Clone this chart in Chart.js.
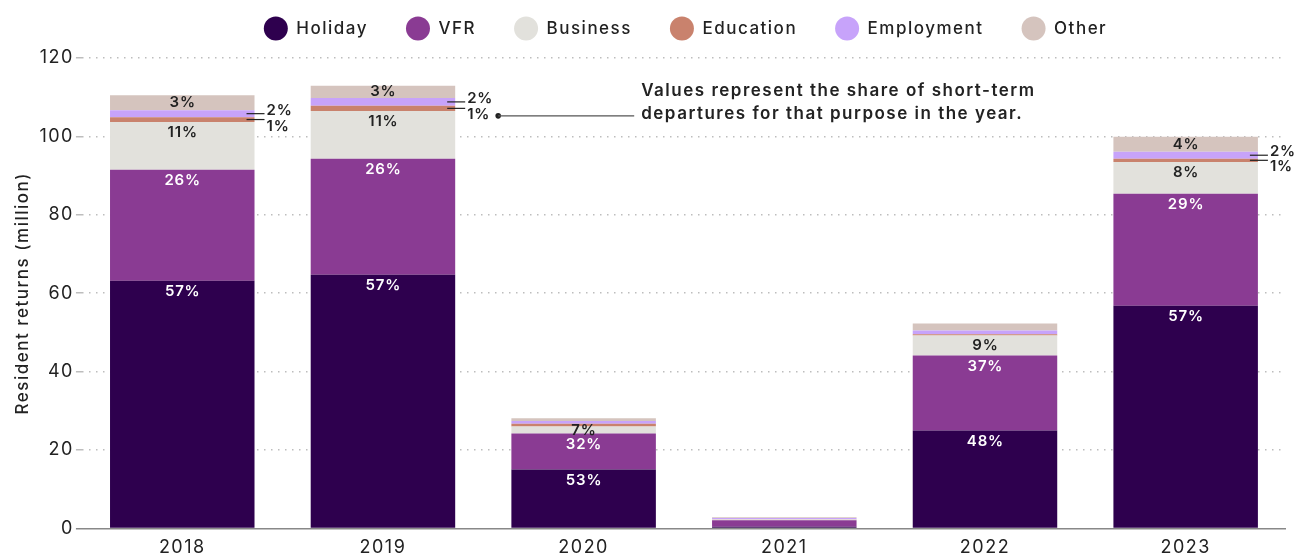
<!DOCTYPE html>
<html>
<head>
<meta charset="utf-8">
<script src="https://cdn.jsdelivr.net/npm/chart.js@4/dist/chart.umd.min.js"></script>
<style>
  html, body { margin: 0; padding: 0; background: #ffffff; }
  #wrap { width: 1300px; height: 558px; }
</style>
</head>
<body>
<div id="wrap"><canvas id="c" width="1300" height="558"></canvas></div>
<script>
// ---- Data ----
const years = ['2018', '2019', '2020', '2021', '2022', '2023'];
const holiday    = [63.2, 64.7, 15.0, 0.4, 25.0, 56.8];
const vfr        = [28.3, 29.6, 9.2, 1.7, 19.1, 28.6];
const business   = [12.2, 12.2, 1.8, 0.2, 5.1, 8.1];
const education  = [1.2, 1.3, 0.7, 0.05, 0.3, 0.8];
const employment = [1.8, 2.0, 0.7, 0.3, 1.0, 1.8];
const other      = [3.8, 3.1, 0.7, 0.2, 1.8, 3.8];

const holidayPct    = ['57%', '57%', '53%', '', '48%', '57%'];
const vfrPct        = ['26%', '26%', '32%', '', '37%', '29%'];
const businessPct   = ['11%', '11%', '7%', '', '9%', '8%'];
const educationPct  = ['1%', '1%', '', '', '', '1%'];
const employmentPct = ['2%', '2%', '', '', '', '2%'];
const otherPct      = ['3%', '3%', '', '', '', '4%'];

const yTicks = [0, 20, 40, 60, 80, 100, 120];
const noteLines = ['Values represent the share of short-term', 'departures for that purpose in the year.'];
const noteYearIndex = 1;

const FONT = 'Inter, "Noto Sans", sans-serif';
const TEXT = '#222222';
const SPACING = '1.5px';
const LABEL_SPACING = '0.8px';

const mk = (label, data, color, pct, mode, labelColor) => ({
  label, data, backgroundColor: color, borderWidth: 0,
  pctLabels: pct, labelMode: mode, labelColor: labelColor,
  barPercentage: 0.72, categoryPercentage: 1.0
});

const datasets = [
  mk('Holiday', holiday, '#2e004e', holidayPct, 'inside', '#ffffff'),
  mk('VFR', vfr, '#8a3b93', vfrPct, 'inside', '#ffffff'),
  mk('Business', business, '#e2e1dc', businessPct, 'inside', TEXT),
  mk('Education', education, '#c9826d', educationPct, 'below', TEXT),
  mk('Employment', employment, '#c7a3fa', employmentPct, 'above', TEXT),
  mk('Other', other, '#d5c4be', otherPct, 'inside', TEXT)
];

const spacingPlugin = {
  id: 'spacing',
  beforeUpdate(chart) { chart.ctx.letterSpacing = SPACING; },
  beforeDraw(chart) { chart.ctx.letterSpacing = SPACING; },
  beforeLayout(chart) {
    const lg = chart.legend;
    if (lg && !lg._extraPatched) {
      const orig = lg.fit.bind(lg);
      lg.fit = function () { orig(); this.height += 11; };
      lg._extraPatched = true;
    }
  },
  afterLayout(chart) {
    if (chart.legend) { chart.legend.left += 36; chart.legend.right += 36; }
  }
};

const labelPlugin = {
  id: 'pctLabels',
  afterDatasetsDraw(chart) {
    const ctx = chart.ctx;
    chart.data.datasets.forEach((ds, di) => {
      const meta = chart.getDatasetMeta(di);
      meta.data.forEach((el, i) => {
        const txt = ds.pctLabels[i];
        if (!txt) return;
        const p = el.getProps(['x', 'y', 'base', 'width'], true);
        const top = Math.min(p.y, p.base), h = Math.abs(p.base - p.y);
        ctx.save();
        ctx.letterSpacing = LABEL_SPACING;
        if (ds.labelMode === 'inside') {
          ctx.font = '600 15px ' + FONT;
          ctx.fillStyle = ds.labelColor;
          ctx.textAlign = 'center';
          ctx.textBaseline = 'middle';
          ctx.fillText(txt, p.x + 0.4, top + Math.min(11, h / 2));
        } else {
          const cy = top + h / 2;
          const xr = p.x + p.width / 2;
          ctx.strokeStyle = TEXT;
          ctx.lineWidth = 1.2;
          ctx.beginPath();
          ctx.moveTo(xr - 8, cy);
          ctx.lineTo(xr + 10, cy);
          ctx.stroke();
          ctx.font = '600 15px ' + FONT;
          ctx.fillStyle = TEXT;
          ctx.textAlign = 'left';
          ctx.textBaseline = 'alphabetic';
          const ty = ds.labelMode === 'above' ? cy + 1 : cy + 11;
          ctx.fillText(txt, xr + 12, ty);
          if (ds.labelMode === 'below' && i === noteYearIndex) {
            const dx = xr + 43, dy = cy + 7.5;
            ctx.beginPath();
            ctx.arc(dx, dy, 2.8, 0, Math.PI * 2);
            ctx.fill();
            ctx.strokeStyle = '#555555';
            ctx.lineWidth = 1.2;
            ctx.beginPath();
            ctx.moveTo(dx, dy);
            ctx.lineTo(dx + 136, dy);
            ctx.stroke();
            ctx.letterSpacing = SPACING;
            ctx.font = '600 17px ' + FONT;
            ctx.textBaseline = 'middle';
            ctx.fillStyle = TEXT;
            ctx.fillText(noteLines[0], dx + 143, dy - 25);
            ctx.fillText(noteLines[1], dx + 143, dy - 2);
          }
        }
        ctx.restore();
      });
    });
  }
};

new Chart(document.getElementById('c'), {
  type: 'bar',
  data: { labels: years, datasets },
  options: {
    responsive: false,
    animation: false,
    layout: { padding: { left: 13, right: 14, top: -18, bottom: -8 } },
    plugins: {
      legend: {
        position: 'top',
        labels: {
          usePointStyle: true,
          pointStyle: 'circle',
          boxWidth: 24, boxHeight: 17, pointStyleWidth: 24,
          padding: 38,
          color: TEXT,
          font: { family: FONT, size: 17, weight: '500' }
        }
      },
      tooltip: { enabled: false }
    },
    scales: {
      x: {
        stacked: true,
        grid: { display: false, drawTicks: false },
        border: { display: false },
        ticks: { color: TEXT, font: { family: FONT, size: 18 }, padding: 8 }
      },
      y: {
        stacked: true,
        min: 0, max: 120,
        afterBuildTicks: (scale) => { scale.ticks = yTicks.map(v => ({ value: v })); },
        grid: {
          color: (c) => (c.tick && c.tick.value === 0) ? '#888888' : '#bdbdbd',
          lineWidth: 1.5,
          tickLength: 6
        },
        border: {
          display: false,
          dash: (c) => (c.tick && c.tick.value === 0) ? [] : [1.5, 5.5]
        },
        ticks: { color: TEXT, font: { family: FONT, size: 18 }, padding: 2 },
        title: {
          display: true,
          text: 'Resident returns (million)',
          color: TEXT,
          font: { family: FONT, size: 17, weight: '500' },
          padding: { top: 0, bottom: 4 }
        }
      }
    }
  },
  plugins: [spacingPlugin, labelPlugin]
});
</script>
</body>
</html>
